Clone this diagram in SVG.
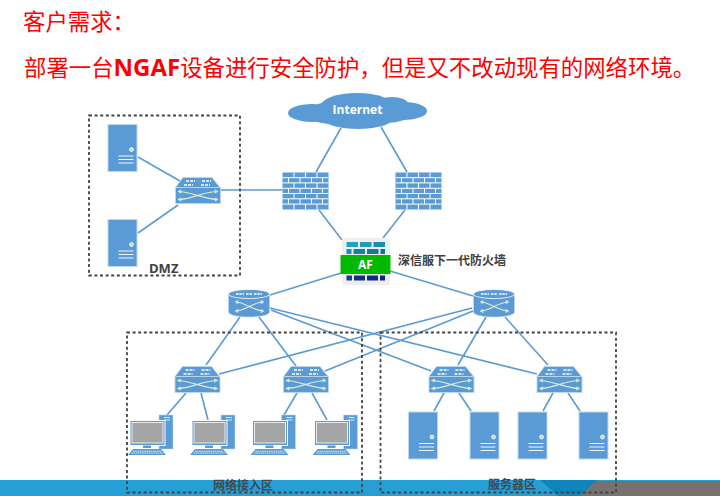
<svg xmlns="http://www.w3.org/2000/svg" xmlns:xlink="http://www.w3.org/1999/xlink" width="720" height="496" viewBox="0 0 720 496">
<style>
.cn{font-family:"Noto Sans CJK SC","Noto Sans",sans-serif}
.title{font-size:22.4px;fill:#ff0000}
.lbl{font-size:12px;font-weight:700;fill:#404040}
.zone{font-size:12px;font-weight:700;fill:#3f4a55}
.box{fill:none;stroke:#444;stroke-width:1.8;stroke-dasharray:3 2.6}
#links line{stroke:#5b9bd5;stroke-width:1.6}
.b{fill:#5b9bd5}
.e{fill:none;stroke:#bdd7ee;stroke-width:1}
.w{fill:none;stroke:#fff;stroke-width:.9}
.g{fill:none;stroke:#dcebd0;stroke-width:1.2}
.gy{fill:#a5a5a5;stroke:#fff;stroke-width:1}
</style>
<defs>
<g id="server">
<rect x=".5" y=".5" width="29" height="47" class="b" stroke="#bdd7ee"/>
<circle cx="24" cy="25.500" r="2" fill="#c5e0b4" stroke="#fff" stroke-width=".7"/>
<path d="M11 32h15M11 35.500h15M11 39h15" stroke="#fff" stroke-width=".9" fill="none"/>
</g>
<g id="switch">
<path d="M.5 10.500L8 .5H37L45 10.500Z" class="b" stroke="#bdd7ee" stroke-width=".8"/>
<rect x=".5" y="10.500" width="45" height="16" class="b" stroke="#bdd7ee" stroke-width=".9"/>
<path d="M11 4h9M27 4h9M9 8h9M26 8h9" stroke="#fff" stroke-width="1.4" stroke-dasharray="3 1" fill="none"/>
<path d="M3 14.500C16 14.500 29 22.500 43 22.500M3 22.500C16 22.500 29 14.500 43 14.500" class="g" stroke-width="2"/>
<path d="M3 14.500L6 12.800V16.200ZM3 22.500L6 20.800V24.200ZM43 14.500L40 12.800V16.200ZM43 22.500L40 20.800V24.200Z" fill="#c5e0b4" stroke="#fff" stroke-width=".4"/>
</g>
<g id="router">
<path d="M.5 5V23C.5 26 10 28 21 28S41.500 26 41.500 23V5Z" class="b" stroke="#bdd7ee" stroke-width=".7"/>
<ellipse cx="21" cy="5" rx="20.500" ry="4.600" class="b" stroke="#fff" stroke-width=".8"/>
<path d="M8 5h8M18 5h6M26 5h8" stroke="#fff" stroke-width="1.500" stroke-dasharray="2.500 .8" fill="none"/>
<path d="M8 13C16 13 26 22 35 22M8 22C16 22 26 13 35 13" class="g" stroke-width="2"/>
<path d="M7 13L10 11.300V14.700ZM7 22L10 20.300V23.700ZM36 13L33 11.300V14.700ZM36 22L33 20.300V23.700Z" fill="#c5e0b4" stroke="#fff" stroke-width=".4"/>
</g>
<g id="firewall">
<rect width="46" height="37" class="b"/>
<path d="M0 5.200H46M0 10.400H46M0 15.800H46M0 21H46M0 26.300H46M0 31.600H46" stroke="#fff" stroke-width="1"/>
<path d="M11.500 0V5M23 0V5M34.500 0V5M6 5V10.500M17.500 5V10.500M29 5V10.500M40 5V10.500M11.500 10.500V16M23 10.500V16M34.500 10.500V16M6 16V21M17.500 16V21M29 16V21M40 16V21M11.500 21V26.300M23 21V26.300M34.500 21V26.300M6 26.300V31.600M17.500 26.300V31.600M29 26.300V31.600M40 26.300V31.600M11.500 31.600V37M23 31.600V37M34.500 31.600V37" stroke="#fff" stroke-width="1"/>
</g>
<g id="pc">
<path d="M31 0H45V34H31Z" class="b" stroke="#bdd7ee" stroke-width=".6"/>
<path d="M36 2.500H42M36 5H42" stroke="#fff" stroke-width=".8"/>
<rect x="2" y="5.500" width="35" height="25" fill="#5b9bd5" stroke="#fff" stroke-width="1"/>
<rect x="4" y="7.500" width="31" height="20.500" fill="#a5a5a5" stroke="#fff" stroke-width=".8"/>
<rect x="15" y="30.500" width="8" height="2.500" class="b"/>
<path d="M5 34H33L38 40H0Z" class="b"/>
<path d="M5 36.200H33M3.500 38H35" stroke="#fff" stroke-width=".8" stroke-dasharray="1.500 .7"/>
</g>
</defs>

<rect width="720" height="496" fill="#fff"/>
<g id="footer">
<rect x="0" y="480" width="720" height="16" fill="#259fd4"/>
<path d="M540 480H597L580 496H558Z" fill="#0f86bb"/>
<path d="M597 480H720V496H580Z" fill="#77726f"/>
<rect x="597" y="480" width="123" height="1" fill="#259fd4"/>
</g>

<g id="title" class="cn">
<text class="title" x="23" y="30">客户需求：</text>
<text class="title" x="24" y="76">部署一台<tspan font-weight="700" font-size="24px" font-family="'Open Sans','Noto Sans',sans-serif">NGAF</tspan>设备进行安全防护，但是又不改动现有的网络环境。</text>
</g>

<g id="links">
<line x1="138" y1="157" x2="180" y2="181"/>
<line x1="138" y1="233" x2="178" y2="205"/>
<line x1="221" y1="190" x2="282" y2="190"/>
<line x1="341" y1="128" x2="316" y2="172"/>
<line x1="381" y1="127" x2="407" y2="172"/>
<line x1="319" y1="210" x2="342" y2="240"/>
<line x1="405" y1="210" x2="383" y2="238"/>
<line x1="341" y1="273" x2="270" y2="295"/>
<line x1="390" y1="271" x2="473" y2="296"/>
<line x1="240" y1="317" x2="206" y2="365"/>
<line x1="259" y1="317" x2="296" y2="366"/>
<line x1="270" y1="308" x2="537" y2="374"/>
<line x1="271" y1="310" x2="431" y2="371"/>
<line x1="472" y1="308" x2="219" y2="374"/>
<line x1="473" y1="311" x2="325" y2="371"/>
<line x1="486" y1="317" x2="458" y2="365"/>
<line x1="505" y1="317" x2="548" y2="365"/>
<line x1="186" y1="393" x2="167" y2="415"/>
<line x1="201" y1="393" x2="208" y2="420"/>
<line x1="297" y1="393" x2="284" y2="415"/>
<line x1="312" y1="393" x2="327" y2="420"/>
<line x1="444" y1="393" x2="434" y2="411"/>
<line x1="459" y1="393" x2="471" y2="411"/>
<line x1="553" y1="393" x2="543" y2="411"/>
<line x1="568" y1="393" x2="580" y2="411"/>
</g>

<g id="zone-dmz">
<rect class="box" x="89" y="115.500" width="151" height="160"/>
<text x="149" y="273" font-size="13" font-weight="700" fill="#404040" font-family="'Open Sans',sans-serif">DMZ</text>
</g>
<g id="zone-access">
<rect class="box" x="127" y="332.500" width="235" height="160"/>
<text class="cn zone" x="213" y="490">网络接入区</text>
</g>
<g id="zone-server">
<rect class="box" x="380.500" y="332.500" width="235.500" height="160"/>
<text class="cn zone" x="488" y="489">服务器区</text>
</g>

<g id="internet">
<g fill="#5b9bd5">
<ellipse cx="312" cy="113" rx="24" ry="9"/>
<ellipse cx="404" cy="111" rx="23" ry="9"/>
<ellipse cx="357" cy="107" rx="37" ry="14"/>
<ellipse cx="358" cy="120" rx="33" ry="9"/>
<ellipse cx="335" cy="116" rx="26" ry="8"/>
<ellipse cx="385" cy="114" rx="26" ry="9"/>
<ellipse cx="392" cy="104" rx="16" ry="7"/>
<ellipse cx="330" cy="108" rx="16" ry="6"/>
</g>
<text x="357.500" y="114" text-anchor="middle" font-size="12" font-weight="700" fill="#fff" font-family="'Open Sans',sans-serif">Internet</text>
</g>

<g id="dmz-server-1"><use href="#server" x="107.500" y="124"/></g>
<g id="dmz-server-2"><use href="#server" x="107.500" y="219"/></g>
<g id="dmz-switch"><use href="#switch" x="175" y="177"/></g>
<g id="fw-1"><use href="#firewall" x="282.500" y="172.500"/></g>
<g id="fw-2"><use href="#firewall" x="395.500" y="172.500"/></g>

<g id="af">
<rect x="342" y="238" width="48" height="47" rx="2" fill="#eeeeee"/>
<rect x="346.500" y="242" width="11.500" height="5" fill="#1ea5c0"/><rect x="360" y="242" width="11.500" height="5" fill="#1e9cb8"/><rect x="373.500" y="242" width="11.500" height="5" fill="#1a90b0"/>
<rect x="346.500" y="249" width="5" height="5" fill="#1b8fb0"/><rect x="353.500" y="249" width="11.500" height="5" fill="#1782a8"/><rect x="367" y="249" width="11.500" height="5" fill="#1478a0"/><rect x="380.500" y="249" width="4.500" height="5" fill="#127098"/>
<rect x="340.500" y="255" width="50" height="19" fill="#00b900"/>
<rect x="346.500" y="275.500" width="5.500" height="5" fill="#123f90"/><rect x="354" y="275.500" width="11" height="5" fill="#0f3088"/><rect x="367" y="275.500" width="11" height="5" fill="#0c2a88"/><rect x="380" y="275.500" width="5" height="5" fill="#0a2480"/>
<text x="365.500" y="269" text-anchor="middle" font-size="12" font-weight="700" fill="#fff" font-family="'Open Sans',sans-serif">AF</text>
<text class="cn lbl" x="398" y="265">深信服下一代防火墙</text>
</g>

<g id="router-1"><use href="#router" x="228" y="289"/></g>
<g id="router-2"><use href="#router" x="473" y="289"/></g>
<g id="switch-1"><use href="#switch" x="174.500" y="366"/></g>
<g id="switch-2"><use href="#switch" x="283" y="366"/></g>
<g id="switch-3"><use href="#switch" x="428.500" y="366"/></g>
<g id="switch-4"><use href="#switch" x="536.500" y="366"/></g>
<g id="pc-1"><use href="#pc" x="128" y="415"/></g>
<g id="pc-2"><use href="#pc" x="190" y="415"/></g>
<g id="pc-3"><use href="#pc" x="250.500" y="415"/></g>
<g id="pc-4"><use href="#pc" x="312.500" y="415"/></g>
<g id="server-1"><use href="#server" x="408" y="411.500"/></g>
<g id="server-2"><use href="#server" x="469.500" y="411.500"/></g>
<g id="server-3"><use href="#server" x="517.500" y="411.500"/></g>
<g id="server-4"><use href="#server" x="578.500" y="411.500"/></g>
</svg>
